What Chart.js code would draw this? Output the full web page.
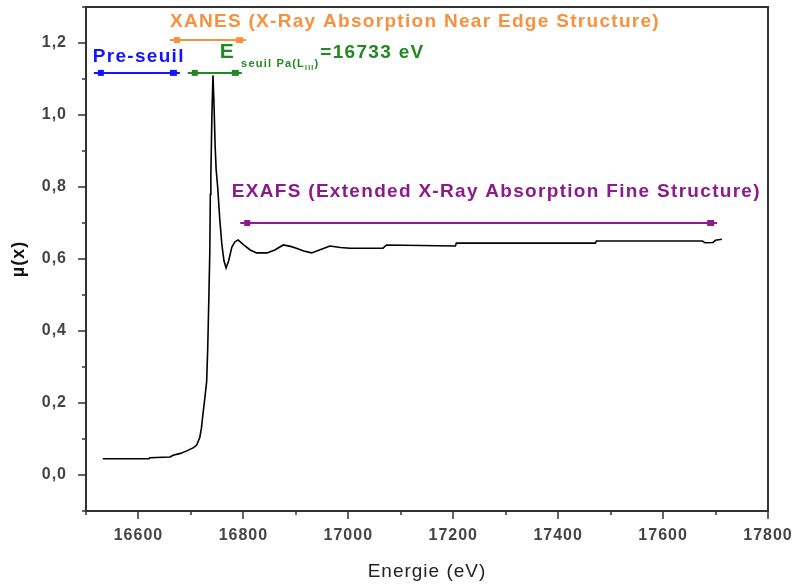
<!DOCTYPE html>
<html>
<head>
<meta charset="utf-8">
<script src="https://cdn.jsdelivr.net/npm/chart.js@4.4.0/dist/chart.umd.min.js"></script>
<style>
  html, body { margin: 0; padding: 0; background: #fff; }
  #wrap { width: 795px; height: 585px; position: relative; }
</style>
</head>
<body>
<div id="wrap"><canvas id="xasChart"></canvas></div>
<script>
// spectrum
const energy = [16532, 16620, 16622, 16660, 16666, 16680, 16692, 16705, 16711, 16717,
    16720, 16723, 16727, 16730, 16732, 16734, 16736, 16737, 16738, 16740,
    16742, 16744, 16746, 16748, 16751, 16755, 16759, 16763, 16767, 16772,
    16778, 16784, 16790, 16800, 16813, 16825, 16845, 16860, 16876, 16890,
    16901, 16915, 16930, 16945, 16965, 16985, 17003, 17066, 17073, 17204,
    17206, 17471, 17473, 17675, 17680, 17695, 17700, 17712];
const mu = [0.045, 0.045, 0.048, 0.050, 0.055, 0.060, 0.067, 0.076, 0.083, 0.105,
    0.13, 0.17, 0.22, 0.26, 0.35, 0.48, 0.62, 0.78, 0.83, 1.0,
    1.11, 1.03, 0.92, 0.85, 0.80, 0.71, 0.64, 0.595, 0.575, 0.595,
    0.633, 0.648, 0.653, 0.640, 0.625, 0.617, 0.617, 0.625, 0.639, 0.635,
    0.630, 0.622, 0.617, 0.625, 0.636, 0.632, 0.630, 0.630, 0.639, 0.636,
    0.644, 0.644, 0.650, 0.650, 0.645, 0.646, 0.652, 0.655];

// region arrows: Pre-seuil, E seuil, XANES, EXAFS
const spanStart = [16515, 16694, 16660, 16794];
const spanEnd = [16679, 16797, 16805, 17703];
const spanLevel = [1.117, 1.117, 1.208, 0.70];
const spanColors = ['#1414ff', '#1f8a1f', '#f7913d', '#8c1a8c'];

// region labels
const labelText = ['Pre-seuil', 'XANES (X-Ray Absorption Near Edge Structure)', 'EXAFS (Extended X-Ray Absorption Fine Structure)'];
const labelX = [16513, 16660, 16778];
const labelY = [1.161, 1.258, 0.786];
const labelColors = ['#1414ff', '#f7913d', '#8c1a8c'];
const edgeLabelX = 16755;
const edgeLabelY = 1.167;

const xTitle = 'Energie (eV)';
const yTitle = 'µ(x)';

const FONT = '"Liberation Sans", Arial, sans-serif';

const decorPlugin = {
    id: 'decor',
    beforeDraw(chart) {
        chart.ctx.letterSpacing = '1px';
    },
    afterDraw(chart) {
        const ctx = chart.ctx;
        const xs = chart.scales.x, ys = chart.scales.y;
        const a = chart.chartArea;
        ctx.save();
        ctx.letterSpacing = '0px';

        // frame
        ctx.strokeStyle = '#333';
        ctx.lineWidth = 2;
        ctx.strokeRect(a.left, a.top, a.right - a.left, a.bottom - a.top);

        // tick marks, major + minor
        ctx.lineWidth = 1.5;
        xs.ticks.forEach(t => {
            const px = Math.round(xs.getPixelForValue(t.value));
            const len = Math.round(t.value) % 200 === 0 ? 8 : 4;
            ctx.beginPath();
            ctx.moveTo(px, a.bottom);
            ctx.lineTo(px, a.bottom + len);
            ctx.stroke();
        });
        ys.ticks.forEach(t => {
            const py = Math.round(ys.getPixelForValue(t.value));
            const len = Math.round(t.value * 10) % 2 === 0 ? 8 : 4;
            ctx.beginPath();
            ctx.moveTo(a.left, py);
            ctx.lineTo(a.left - len, py);
            ctx.stroke();
        });

        // span arrows
        spanStart.forEach((s, i) => {
            const x1 = xs.getPixelForValue(s);
            const x2 = xs.getPixelForValue(spanEnd[i]);
            const y = ys.getPixelForValue(spanLevel[i]);
            ctx.strokeStyle = spanColors[i];
            ctx.fillStyle = spanColors[i];
            ctx.lineWidth = 2;
            ctx.beginPath();
            ctx.moveTo(x1, y);
            ctx.lineTo(x2, y);
            ctx.stroke();
            ctx.fillRect(x1 + 4, y - 3, 6, 6);
            ctx.fillRect(x2 - 10, y - 3, 7, 6);
        });

        // labels
        ctx.textBaseline = 'middle';
        ctx.textAlign = 'left';
        ctx.letterSpacing = '1.3px';
        ctx.font = 'bold 19px ' + FONT;
        labelText.forEach((txt, i) => {
            ctx.fillStyle = labelColors[i];
            ctx.fillText(txt, xs.getPixelForValue(labelX[i]), ys.getPixelForValue(labelY[i]));
        });

        // E seuil Pa(L III) = 16733 eV
        ctx.fillStyle = '#1f8a1f';
        ctx.textBaseline = 'alphabetic';
        let x = xs.getPixelForValue(edgeLabelX);
        const base = ys.getPixelForValue(edgeLabelY) + 3;
        ctx.font = 'bold 21px ' + FONT;
        ctx.fillText('E', x, base);
        x += ctx.measureText('E').width + 6;
        ctx.letterSpacing = '1.2px';
        ctx.font = 'bold 11px ' + FONT;
        ctx.fillText('seuil Pa(L', x, base + 9);
        x += ctx.measureText('seuil Pa(L').width;
        ctx.font = 'bold 7px ' + FONT;
        ctx.fillText('III', x, base + 12);
        x += ctx.measureText('III').width;
        ctx.font = 'bold 11px ' + FONT;
        ctx.fillText(')', x, base + 9);
        x += ctx.measureText(')').width + 1;
        ctx.letterSpacing = '1.3px';
        ctx.font = 'bold 19px ' + FONT;
        ctx.fillText('=16733 eV', x, base);

        ctx.restore();
    }
};

const ctx = document.getElementById('xasChart').getContext('2d');
new Chart(ctx, {
    type: 'line',
    data: {
        datasets: [{
            data: energy.map((e, i) => ({ x: e, y: mu[i] })),
            borderColor: '#000',
            borderWidth: 1.6,
            pointRadius: 0,
            fill: false,
            tension: 0
        }]
    },
    options: {
        responsive: true,
        maintainAspectRatio: false,
        animation: false,
        layout: { padding: { top: 7, right: 27, left: 0, bottom: 0 } },
        plugins: {
            legend: { display: false },
            tooltip: { enabled: false }
        },
        scales: {
            x: {
                type: 'linear',
                min: 16500,
                max: 17800,
                afterFit: scale => {
                    scale.height = 74;
                    scale.paddingLeft = 0;
                    scale.paddingRight = 0;
                },
                grid: { display: false, drawTicks: false },
                border: { display: false },
                ticks: {
                    stepSize: 100,
                    autoSkip: false,
                    maxRotation: 0,
                    padding: 15,
                    color: '#444',
                    font: { family: FONT, size: 16, weight: 'bold' },
                    callback: v => (Math.round(v) % 200 === 0 ? String(v) : '')
                },
                title: {
                    display: true,
                    text: xTitle,
                    color: '#222',
                    font: { family: FONT, size: 19 },
                    padding: { top: 0, bottom: 2 }
                }
            },
            y: {
                type: 'linear',
                min: -0.1,
                max: 1.3,
                afterFit: scale => {
                    scale.width = 86;
                    scale.paddingTop = 0;
                    scale.paddingBottom = 0;
                },
                grid: { display: false, drawTicks: false },
                border: { display: false },
                ticks: {
                    stepSize: 0.1,
                    autoSkip: false,
                    padding: 19,
                    color: '#444',
                    font: { family: FONT, size: 16, weight: 'bold' },
                    callback: v => (Math.round(v * 10) % 2 === 0 ? v.toFixed(1).replace('.', ',') : '')
                },
                title: {
                    display: true,
                    text: yTitle,
                    color: '#111',
                    font: { family: FONT, size: 18, weight: 'bold' },
                    padding: { top: 8, bottom: 0 }
                }
            }
        }
    },
    plugins: [decorPlugin]
});
</script>
</body>
</html>
